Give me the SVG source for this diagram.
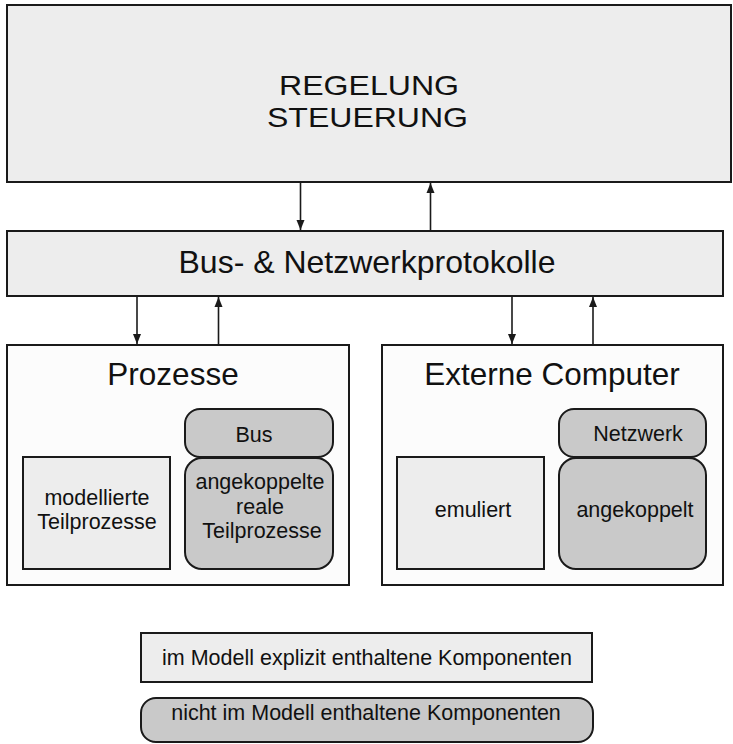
<svg xmlns="http://www.w3.org/2000/svg" width="733" height="744" viewBox="0 0 733 744">
  <style>
    text { font-family: "Liberation Sans", Arial, sans-serif; fill: #111; text-anchor: middle; }
    .box { stroke: #1a1a1a; stroke-width: 2; }
    .light { fill: #ededed; }
    .white { fill: #fcfcfc; }
    .dark { fill: #c9c9c9; }
    .conn { stroke: #1a1a1a; stroke-width: 1.6; fill: none; marker-end: url(#arrow); }
    .head { font-size: 27.5px; }
    .big { font-size: 32px; }
    .title { font-size: 31.5px; }
    .mid { font-size: 21.5px; }
  </style>
  <defs>
    <marker id="arrow" viewBox="0 0 10 14" refX="10" refY="7" markerWidth="11" markerHeight="14" markerUnits="userSpaceOnUse" orient="auto">
      <path d="M0,3 L10,7 L0,11 Z" fill="#1a1a1a"/>
    </marker>
  </defs>
  <rect width="733" height="744" fill="#ffffff"/>

  <g id="regelung">
    <rect class="box light" x="7" y="5" width="724" height="177"/>
    <text class="head" x="369" y="95" textLength="180" lengthAdjust="spacingAndGlyphs">REGELUNG</text>
    <text class="head" x="367.5" y="126.5" textLength="201" lengthAdjust="spacingAndGlyphs">STEUERUNG</text>
  </g>

  <g id="protokolle">
    <rect class="box light" x="7" y="231" width="716" height="65"/>
    <text class="big" x="367" y="273">Bus- &amp; Netzwerkprotokolle</text>
  </g>

  <g id="prozesse">
    <rect class="box white" x="7" y="345" width="342" height="240"/>
    <text class="title" x="173" y="385">Prozesse</text>
  </g>

  <g id="modellierte">
    <rect class="box light" x="23" y="457" width="147" height="112"/>
    <text class="mid" x="97" y="505">modellierte</text>
    <text class="mid" x="97" y="529">Teilprozesse</text>
  </g>

  <g id="bus">
    <rect class="box dark" x="185" y="409" width="148" height="48" rx="15"/>
    <text class="mid" x="254" y="442">Bus</text>
  </g>

  <g id="reale">
    <rect class="box dark" x="185" y="458" width="148" height="111" rx="17"/>
    <text class="mid" x="260" y="489">angekoppelte</text>
    <text class="mid" x="260" y="514">reale</text>
    <text class="mid" x="262" y="538">Teilprozesse</text>
  </g>

  <g id="externe">
    <rect class="box white" x="382" y="345" width="341" height="240"/>
    <text class="title" x="552" y="385">Externe Computer</text>
  </g>

  <g id="emuliert">
    <rect class="box light" x="397" y="457" width="147" height="112"/>
    <text class="mid" x="473" y="517">emuliert</text>
  </g>

  <g id="netzwerk">
    <rect class="box dark" x="559" y="409" width="147" height="48" rx="15"/>
    <text class="mid" x="638" y="441">Netzwerk</text>
  </g>

  <g id="angekoppelt">
    <rect class="box dark" x="559" y="458" width="147" height="111" rx="17"/>
    <text class="mid" x="635" y="517">angekoppelt</text>
  </g>

  <g id="legende-explizit">
    <rect class="box light" x="141" y="633" width="451" height="49"/>
    <text class="mid" x="367" y="665">im Modell explizit enthaltene Komponenten</text>
  </g>

  <g id="legende-extern">
    <rect class="box dark" x="141" y="698" width="452" height="44" rx="15"/>
    <text class="mid" x="366" y="720">nicht im Modell enthaltene Komponenten</text>
  </g>

  <g id="connectors">
    <line class="conn" x1="300.5" y1="183" x2="300.5" y2="230"/>
    <line class="conn" x1="430.5" y1="230" x2="430.5" y2="183"/>
    <line class="conn" x1="137" y1="297" x2="137" y2="344"/>
    <line class="conn" x1="218.5" y1="344" x2="218.5" y2="297"/>
    <line class="conn" x1="512" y1="297" x2="512" y2="344"/>
    <line class="conn" x1="593" y1="344" x2="593" y2="297"/>
  </g>
</svg>
